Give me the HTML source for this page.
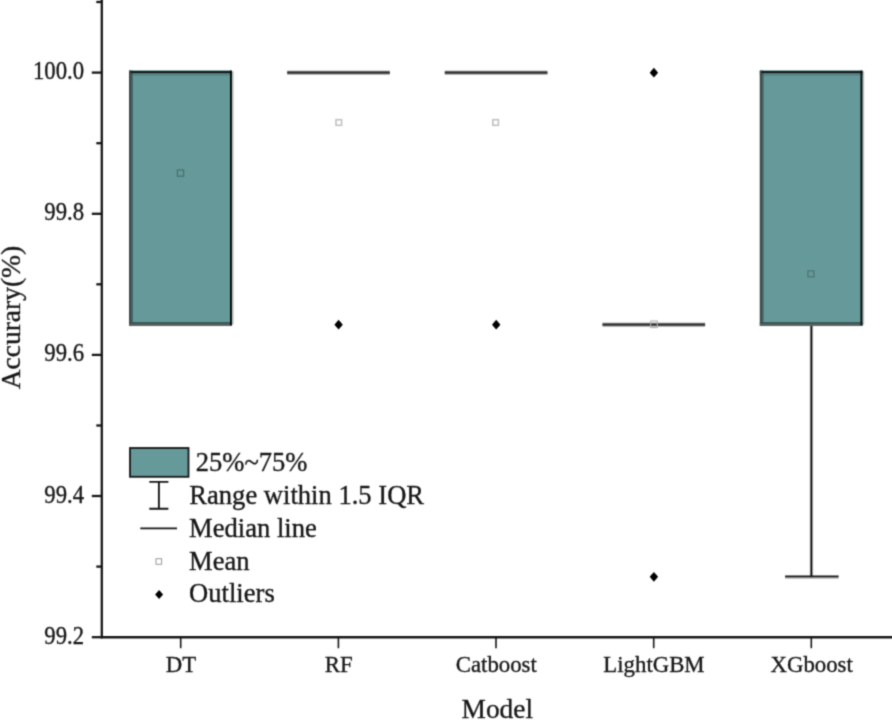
<!DOCTYPE html>
<html><head><meta charset="utf-8"><title>Model accuracy box plot</title>
<style>html,body{margin:0;padding:0;background:#fff}text{stroke:#222;stroke-width:0.35px}body{width:892px;height:722px;overflow:hidden}</style></head>
<body>
<div id="chart" style="width:892px;height:722px;overflow:hidden;filter:url(#soften)">
<svg width="892" height="722" viewBox="0 0 892 722" style="display:block">
<defs><filter id="soften" x="0" y="0" width="100%" height="100%" color-interpolation-filters="sRGB"><feConvolveMatrix order="3" kernelMatrix="0.03 0.12 0.03 0.12 0.4 0.12 0.03 0.12 0.03" divisor="1" edgeMode="duplicate" preserveAlpha="true"/></filter></defs>
<rect x="-5" y="-5" width="902" height="732" fill="#fff"/>
<g font-family="'Liberation Serif', serif" fill="#151515" stroke="#151515" stroke-width="0">
<g stroke="#161616" stroke-width="2.3" fill="none">
<path d="M101.8 -3 V638.2"/>
<path d="M100.8 637.2 H897" stroke-width="2.5"/>
<path d="M91.8 72.6 H101.8"/>
<path d="M91.8 213.8 H101.8"/>
<path d="M91.8 354.9 H101.8"/>
<path d="M91.8 496.0 H101.8"/>
<path d="M91.8 637.2 H101.8"/>
<path d="M96.3 2.0 H101.8"/>
<path d="M96.3 143.2 H101.8"/>
<path d="M96.3 284.3 H101.8"/>
<path d="M96.3 425.5 H101.8"/>
<path d="M96.3 566.6 H101.8"/>
<path d="M180.7 637.2 V648.2" stroke-width="1.6"/>
<path d="M338.4 637.2 V648.2" stroke-width="1.6"/>
<path d="M496.0 637.2 V648.2" stroke-width="1.6"/>
<path d="M653.7 637.2 V648.2" stroke-width="1.6"/>
<path d="M811.3 637.2 V648.2" stroke-width="1.6"/>
</g>
<text transform="translate(84.0,79.1) scale(1,1.08)" font-size="22.7" text-anchor="end">100.0</text>
<text transform="translate(84.0,220.3) scale(1,1.08)" font-size="22.7" text-anchor="end">99.8</text>
<text transform="translate(84.0,361.4) scale(1,1.08)" font-size="22.7" text-anchor="end">99.6</text>
<text transform="translate(84.0,502.5) scale(1,1.08)" font-size="22.7" text-anchor="end">99.4</text>
<text transform="translate(84.0,643.7) scale(1,1.08)" font-size="22.7" text-anchor="end">99.2</text>
<text transform="translate(181.0,672.2) scale(1,1.05)" font-size="22.8" text-anchor="middle">DT</text>
<text transform="translate(338.7,672.2) scale(1,1.05)" font-size="22.8" text-anchor="middle">RF</text>
<text transform="translate(496.3,672.2) scale(1,1.05)" font-size="22.8" text-anchor="middle">Catboost</text>
<text transform="translate(654.0,672.2) scale(1,1.05)" font-size="22.8" text-anchor="middle">LightGBM</text>
<text transform="translate(811.6,672.2) scale(1,1.05)" font-size="22.8" text-anchor="middle">XGboost</text>
<text x="497.3" y="718.2" font-size="27.4" text-anchor="middle">Model</text>
<text transform="translate(20.3,317.6) rotate(-90)" font-size="27.5" text-anchor="middle">Accurary(%)</text>
<path d="M811.4 324.6 V576.7" stroke="#e2e2e2" stroke-width="4.0" fill="none"/>
<path d="M785.1 577.8 H838.6" stroke="#8c8c8c" stroke-width="1.6" fill="none"/>
<path d="M811.4 324.6 V577.1" stroke="#000" stroke-width="1.8" fill="none"/>
<path d="M785.1 576.3 H838.6" stroke="#161616" stroke-width="1.5" fill="none"/>
<rect x="231.7" y="71.4" width="2.0" height="253.2" fill="#c2c2c2"/>
<rect x="129.2" y="70.6" width="102.7" height="255.2" fill="#669999"/>
<rect x="129.2" y="70.6" width="102.7" height="5.0" fill="#558383"/>
<rect x="129.2" y="70.6" width="3.6" height="255.2" fill="#3f6262"/>
<rect x="129.2" y="322.2" width="102.7" height="3.6" fill="#335050"/>
<rect x="129.2" y="71.0" width="102.7" height="2.1" fill="#151a1a"/>
<rect x="129.2" y="70.6" width="1.6" height="255.2" fill="#404545"/>
<rect x="129.2" y="323.8" width="102.7" height="2.0" fill="#5e6666"/>
<rect x="230.0" y="70.6" width="1.9" height="254.6" fill="#050a0a"/>
<rect x="862.2" y="71.4" width="2.0" height="253.2" fill="#c2c2c2"/>
<rect x="759.9" y="70.6" width="102.5" height="255.2" fill="#669999"/>
<rect x="759.9" y="70.6" width="102.5" height="5.0" fill="#558383"/>
<rect x="759.9" y="70.6" width="3.6" height="255.2" fill="#3f6262"/>
<rect x="759.9" y="322.2" width="102.5" height="3.6" fill="#335050"/>
<rect x="759.9" y="71.0" width="102.5" height="2.1" fill="#151a1a"/>
<rect x="759.9" y="70.6" width="1.6" height="255.2" fill="#404545"/>
<rect x="759.9" y="323.8" width="102.5" height="2.0" fill="#5e6666"/>
<rect x="860.5" y="70.6" width="1.9" height="254.6" fill="#050a0a"/>
<path d="M287.2 72.6 H389.8" stroke="#7a7a7a" stroke-width="3.6"/>
<path d="M287.2 72.6 H389.8" stroke="#2e2e2e" stroke-width="1.8"/>
<path d="M444.8 72.6 H547.4" stroke="#7a7a7a" stroke-width="3.6"/>
<path d="M444.8 72.6 H547.4" stroke="#2e2e2e" stroke-width="1.8"/>
<path d="M602.5 324.6 H705.1" stroke="#7a7a7a" stroke-width="3.6"/>
<path d="M602.5 324.6 H705.1" stroke="#2e2e2e" stroke-width="1.8"/>
<rect x="177.4" y="170.0" width="6.2" height="6.2" fill="none" stroke="#467070" stroke-width="1.2"/>
<rect x="336.0" y="119.7" width="5.6" height="5.6" fill="none" stroke="#c2c2c2" stroke-width="1.6"/>
<rect x="492.8" y="119.7" width="5.6" height="5.6" fill="none" stroke="#c2c2c2" stroke-width="1.6"/>
<rect x="650.7" y="321.0" width="6.6" height="6.6" fill="none" stroke="#b0b0b0" stroke-width="1.1"/>
<rect x="807.9" y="270.8" width="6.0" height="6.0" fill="none" stroke="#4d7777" stroke-width="1.3"/>
<path d="M338.6 319.8 L342.8 324.7 L338.6 329.6 L334.4 324.7 Z M336.1 322.3 H341.1 V327.1 H336.1 Z" fill="#000"/>
<path d="M496.2 319.8 L500.4 324.7 L496.2 329.6 L492.0 324.7 Z M493.7 322.3 H498.7 V327.1 H493.7 Z" fill="#000"/>
<path d="M653.9 67.8 L658.1 72.7 L653.9 77.6 L649.7 72.7 Z M651.4 70.3 H656.4 V75.1 H651.4 Z" fill="#000"/>
<path d="M653.9 571.9 L658.1 576.8 L653.9 581.7 L649.7 576.8 Z M651.4 574.4 H656.4 V579.2 H651.4 Z" fill="#000"/>
<rect x="130" y="448" width="58.5" height="28.8" fill="#669999" stroke="#161616" stroke-width="1.8"/>
<path d="M158.9 481.9 V508.7 M149.3 481.9 H168.4 M149.3 508.7 H168.4" stroke="#161616" stroke-width="1.9" fill="none"/>
<path d="M140.3 528.3 H177" stroke="#161616" stroke-width="1.8"/>
<rect x="156" y="558.7" width="5.6" height="5.6" fill="none" stroke="#9a9a9a" stroke-width="1"/>
<path d="M159.1 590.1 L163.1 594.6 L159.1 599.1 L155.1 594.6 Z M156.8 592.4 H161.4 V596.8 H156.8 Z" fill="#000"/>
<text transform="translate(195.7,471.3) scale(1,1.035)" font-size="26.6">25%~75%</text>
<text transform="translate(189.3,504) scale(1,1.035)" font-size="26.6">Range within 1.5 IQR</text>
<text transform="translate(189.1,536.6) scale(1,1.035)" font-size="26.6">Median line</text>
<text transform="translate(189.1,569.9) scale(1,1.035)" font-size="26.6">Mean</text>
<text transform="translate(189.1,602.4) scale(1,1.035)" font-size="26.6">Outliers</text>
</g></svg>
</div>
</body></html>
